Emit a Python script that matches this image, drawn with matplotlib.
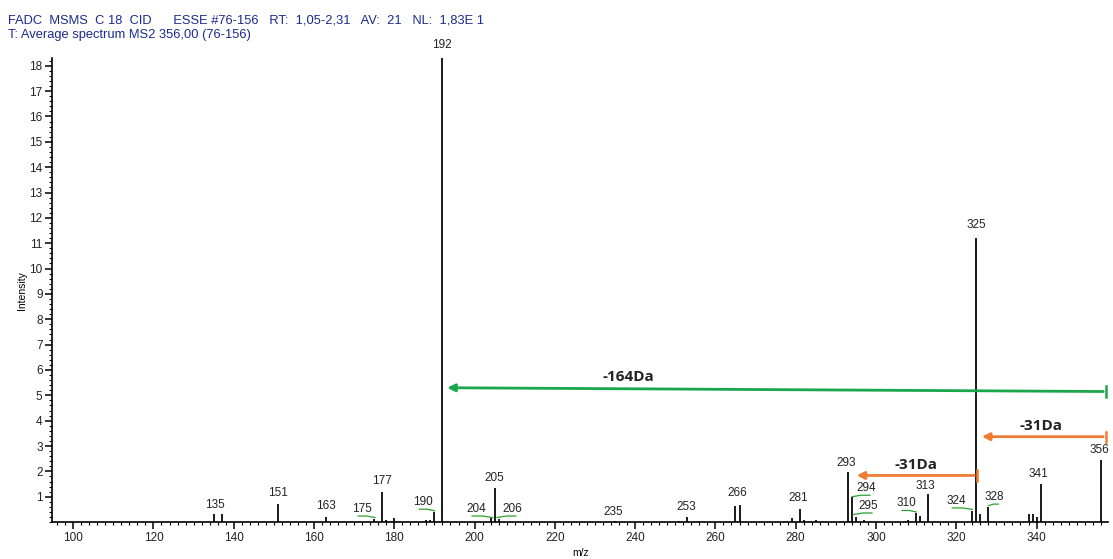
import numpy as np
import matplotlib.pyplot as plt
from matplotlib.ticker import MultipleLocator

plt.rcParams['font.family'] = ['Liberation Sans', 'DejaVu Sans']

# Peaks (m/z, relative intensity)
mz = np.array([135, 137, 151, 163, 175, 177, 178, 180, 188, 189, 190, 192,
               204, 205, 206, 235, 251, 253, 256, 265, 266, 279, 281, 282,
               285, 293, 294, 295, 297, 308, 310, 311, 313, 324, 325, 326,
               328, 338, 339, 340, 341, 356])
intensity = np.array([0.3, 0.3, 0.7, 0.2, 0.12, 1.2, 0.1, 0.15, 0.08, 0.08, 0.4, 18.3,
                      0.15, 1.33, 0.12, 0.05, 0.06, 0.2, 0.06, 0.65, 0.67, 0.15, 0.5, 0.1,
                      0.1, 1.96, 0.98, 0.2, 0.1, 0.1, 0.35, 0.25, 1.1, 0.43, 11.2, 0.3,
                      0.6, 0.3, 0.3, 0.2, 1.49, 2.43])

# Peak labels: text, label x, label y (bottom), peak it belongs to (connector)
labels = ['135', '151', '163', '175', '177', '190', '192', '204', '205', '206',
          '235', '253', '266', '281', '293', '294', '295', '310', '313', '324',
          '325', '328', '341', '356']
label_x = [135.3, 151, 162.9, 172, 177, 187.2, 191.9, 200.4, 204.8, 209.3,
           234.6, 252.8, 265.5, 280.6, 292.5, 297.5, 298, 307.5, 312.4, 320,
           325, 329.5, 340.5, 355.6]
label_y = [0.45, 0.9, 0.4, 0.28, 1.38, 0.55, 18.6, 0.28, 1.5, 0.28,
           0.15, 0.35, 0.9, 0.7, 2.1, 1.1, 0.4, 0.5, 1.2, 0.6,
           11.5, 0.75, 1.65, 2.6]
connect_peak = [None, None, None, 175.2, None, 190, None, 204.5, None, 205.6,
                None, None, None, None, None, 294, 294.5, 310, None, 324,
                None, 328, None, None]

fig = plt.figure(figsize=(11.13, 5.59), dpi=100)
ax = fig.add_axes([0.047, 0.066, 0.9485, 0.83])

ax.vlines(mz, 0, intensity, color='#1a1a1a', linewidth=1.4)

for t, x, y, p in zip(labels, label_x, label_y, connect_peak):
    ax.text(x, y, t, ha='center', va='bottom', fontsize=8.5, color='#222222')
    if p is not None:
        # small green connector just under the label
        x0 = x - 1.0 if p > x else x + 1.0
        xs = [x0, (x0 + p) / 2, p]
        ys = [y - 0.04, y - 0.04, y - 0.1]
        ax.plot(xs, ys, color='#2ca02c', linewidth=0.9)

# Neutral loss arrows
green = '#1aa64a'
orange = '#f07c32'
ax.annotate('', xy=(192.5, 5.3), xytext=(357.3, 5.15),
            arrowprops=dict(arrowstyle='-|>', color=green, lw=2, mutation_scale=11))
ax.plot([357.3, 357.3], [4.95, 5.35], color=green, lw=1.8)
ax.text(238.4, 5.45, '-164Da', fontsize=11, fontweight='bold', ha='center',
        va='bottom', color='#222222', family=['Open Sans', 'DejaVu Sans'])

ax.annotate('', xy=(325.7, 3.37), xytext=(357.3, 3.37),
            arrowprops=dict(arrowstyle='-|>', color=orange, lw=2, mutation_scale=11))
ax.plot([357.3, 357.3], [3.17, 3.57], color=orange, lw=1.8)
ax.text(341.2, 3.5, '-31Da', fontsize=11, fontweight='bold', ha='center',
        va='bottom', color='#222222', family=['Open Sans', 'DejaVu Sans'])

ax.annotate('', xy=(294.5, 1.84), xytext=(325.2, 1.84),
            arrowprops=dict(arrowstyle='-|>', color=orange, lw=2, mutation_scale=11))
ax.plot([325.2, 325.2], [1.64, 2.04], color=orange, lw=1.8)
ax.text(310.0, 1.97, '-31Da', fontsize=11, fontweight='bold', ha='center',
        va='bottom', color='#222222', family=['Open Sans', 'DejaVu Sans'])

ax.set_xlim(94.8, 357.8)
ax.set_ylim(0, 18.3)
ax.spines['top'].set_visible(False)
ax.spines['right'].set_visible(False)
ax.spines['left'].set_linewidth(1.2)
ax.spines['bottom'].set_linewidth(1.2)

ax.xaxis.set_major_locator(MultipleLocator(20))
ax.xaxis.set_minor_locator(MultipleLocator(2))
ax.yaxis.set_major_locator(MultipleLocator(1))
ax.yaxis.set_minor_locator(MultipleLocator(0.2))
ax.set_yticks(np.arange(1, 19))
ax.tick_params(axis='both', which='major', length=5, width=1.1, labelsize=8.5,
               labelcolor='#222222', pad=2)
ax.tick_params(axis='both', which='minor', length=2.5, width=0.8)

ax.set_xlabel('m/z', fontsize=7.5, labelpad=3)
ax.set_ylabel('Intensity', fontsize=7.5, labelpad=2)

fig.text(0.007, 0.958, 'FADC  MSMS  C 18  CID      ESSE #76-156   RT:  1,05-2,31   AV:  21   NL:  1,83E 1',
         fontsize=9.3, color='#1c2a8c')
fig.text(0.007, 0.932, 'T: Average spectrum MS2 356,00 (76-156)', fontsize=9.3, color='#1c2a8c')

fig.savefig('out.png', dpi=100)
